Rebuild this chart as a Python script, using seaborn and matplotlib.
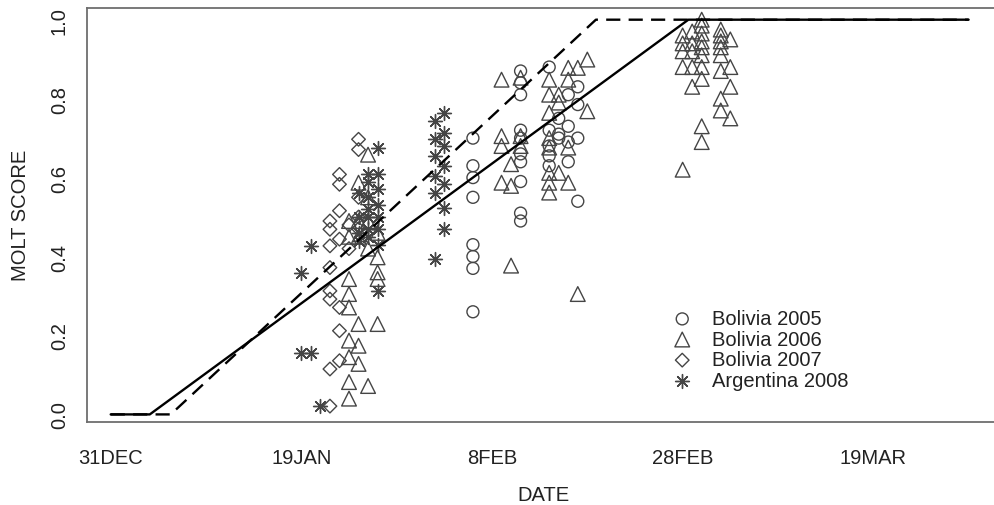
import numpy as np
import pandas as pd
import matplotlib
matplotlib.use("Agg")
import matplotlib.pyplot as plt
import seaborn as sns

# x is days after 31 DEC, y is the molt score
bol2005_day = [38] * 8 + [43] * 10 + [46] * 5 + [47] * 3 + [48] * 4 + [49] * 4
bol2005_score = [0.70, 0.63, 0.60, 0.55, 0.43, 0.40, 0.37, 0.26,
                 0.87, 0.84, 0.81, 0.72, 0.70, 0.66, 0.64, 0.59, 0.51, 0.49,
                 0.88, 0.72, 0.68, 0.655, 0.63,
                 0.75, 0.71, 0.70,
                 0.81, 0.73, 0.69, 0.64,
                 0.83, 0.785, 0.70, 0.54]

bol2006_day = ([25] * 9 + [26] * 6 + [27] * 5 + [28] * 5
               + [41] * 4 + [42] * 3 + [43] * 3
               + [46] * 8 + [47] * 3 + [48] * 4 + [49] * 2 + [50] * 2
               + [60] * 5 + [61] * 5 + [62] * 10 + [64] * 8 + [65] * 4)
bol2006_score = [0.49, 0.45, 0.343, 0.305, 0.271, 0.187, 0.145, 0.082, 0.04,
                 0.587, 0.49, 0.45, 0.229, 0.174, 0.128,
                 0.658, 0.55, 0.49, 0.42, 0.072,
                 0.46, 0.398, 0.36, 0.343, 0.229,
                 0.848, 0.705, 0.68, 0.587,
                 0.634, 0.579, 0.377,
                 0.853, 0.705, 0.68,
                 0.848, 0.81, 0.764, 0.70, 0.676, 0.612, 0.587, 0.562,
                 0.81, 0.79, 0.612,
                 0.878, 0.848, 0.676, 0.587,
                 0.878, 0.305,
                 0.899, 0.768,
                 0.96, 0.94, 0.92, 0.88, 0.62,
                 0.97, 0.94, 0.92, 0.88, 0.83,
                 1.0, 0.985, 0.965, 0.945, 0.93, 0.91, 0.88, 0.85, 0.73, 0.69,
                 0.975, 0.96, 0.945, 0.93, 0.91, 0.87, 0.80, 0.77,
                 0.95, 0.88, 0.83, 0.75]

bol2007_day = [23] * 8 + [24] * 7 + [25] * 2 + [26] * 5
bol2007_score = [0.49, 0.469, 0.427, 0.372, 0.313, 0.292, 0.115, 0.021,
                 0.608, 0.583, 0.516, 0.444, 0.271, 0.212, 0.136,
                 0.48, 0.42,
                 0.697, 0.671, 0.55, 0.50, 0.47]

arg2008_day = [20] * 2 + [21] * 2 + [22] + [26] * 4 + [27] * 7 + [28] * 8 + [34] * 6 + [35] * 7
arg2008_score = [0.359, 0.156,
                 0.426, 0.156,
                 0.021,
                 0.56, 0.50, 0.46, 0.44,
                 0.61, 0.59, 0.55, 0.52, 0.50, 0.47, 0.45,
                 0.674, 0.61, 0.57, 0.53, 0.50, 0.47, 0.43, 0.313,
                 0.743, 0.697, 0.655, 0.604, 0.562, 0.393,
                 0.764, 0.714, 0.68, 0.63, 0.583, 0.524, 0.469]

# fitted piecewise-linear molt curves
fit_solid_day = [0, 4.1, 60.6, 90]
fit_solid_score = [0, 0, 1, 1]
fit_dashed_day = [0, 6.3, 50.9, 90]
fit_dashed_score = [0, 0, 1, 1]

tick_days = [0, 20, 40, 60, 80]
tick_labels = ["31DEC", "19JAN", "8FEB", "28FEB", "19MAR"]

sns.set_theme(style="white")
plt.rcParams["font.family"] = ["Liberation Sans", "DejaVu Sans"]

GREY = "#454545"
TXT = "#222222"
AX = "#6e6e6e"
FS = 14.5

fig = plt.figure(figsize=(9.95, 5.06), dpi=100)
ax = fig.add_axes([0.0871, 0.1646, 0.918, 0.8176])

groups = [
    ("Bolivia 2005", bol2005_day, bol2005_score, "o", 74),
    ("Bolivia 2006", bol2006_day, bol2006_score, "^", 112),
    ("Bolivia 2007", bol2007_day, bol2007_score, "D", 48),
    ("Argentina 2008", arg2008_day, arg2008_score, (8, 2, 0), 100),
]
for name, d, s, mk, sz in groups:
    df = pd.DataFrame({"day": d, "score": s})
    if isinstance(mk, str):
        sns.scatterplot(data=df, x="day", y="score", marker=mk, s=sz,
                        facecolors="none", edgecolor=GREY, linewidth=1.0,
                        label=name, legend=False, ax=ax)
    else:
        sns.scatterplot(data=df, x="day", y="score", marker=mk, s=sz,
                        color=GREY, linewidth=1.0,
                        label=name, legend=False, ax=ax)

sns.lineplot(x=fit_solid_day, y=fit_solid_score, color="black", lw=1.7,
             estimator=None, sort=False, legend=False, ax=ax)
sns.lineplot(x=fit_dashed_day, y=fit_dashed_score, color="black", lw=1.7,
             linestyle=(0, (6, 3.5)), estimator=None, sort=False, legend=False, ax=ax)

ax.set_xlim(-2.52, 93.3)
ax.set_ylim(-0.0185, 1.0296)
ax.set_xticks(tick_days)
ax.set_xticklabels(tick_labels)
ax.set_yticks([0.0, 0.2, 0.4, 0.6, 0.8, 1.0])
ax.set_yticklabels(["0.0", "0.2", "0.4", "0.6", "0.8", "1.0"])

ax.tick_params(axis="both", direction="out", length=5.8, width=1.0,
               colors=AX, labelcolor=TXT, labelsize=FS)
ax.tick_params(axis="x", pad=13)
ax.tick_params(axis="y", pad=7, labelrotation=90)
for lab in ax.get_yticklabels():
    lab.set_va("center")

for sp in ax.spines.values():
    sp.set_color(AX)
    sp.set_linewidth(1.3)

ax.set_xlabel("DATE", fontsize=FS, color=TXT)
ax.set_ylabel("MOLT SCORE", fontsize=FS, color=TXT)
ax.xaxis.set_label_coords(0.5, -0.152)
ax.yaxis.set_label_coords(-0.062, 0.5)

ax.legend(loc="upper left", bbox_to_anchor=(0.641, 0.272), frameon=False,
          fontsize=FS, borderpad=0, borderaxespad=0, handlelength=1.0,
          handletextpad=1.0, labelspacing=0.08, labelcolor=TXT)

fig.savefig("out.png", dpi=100)
